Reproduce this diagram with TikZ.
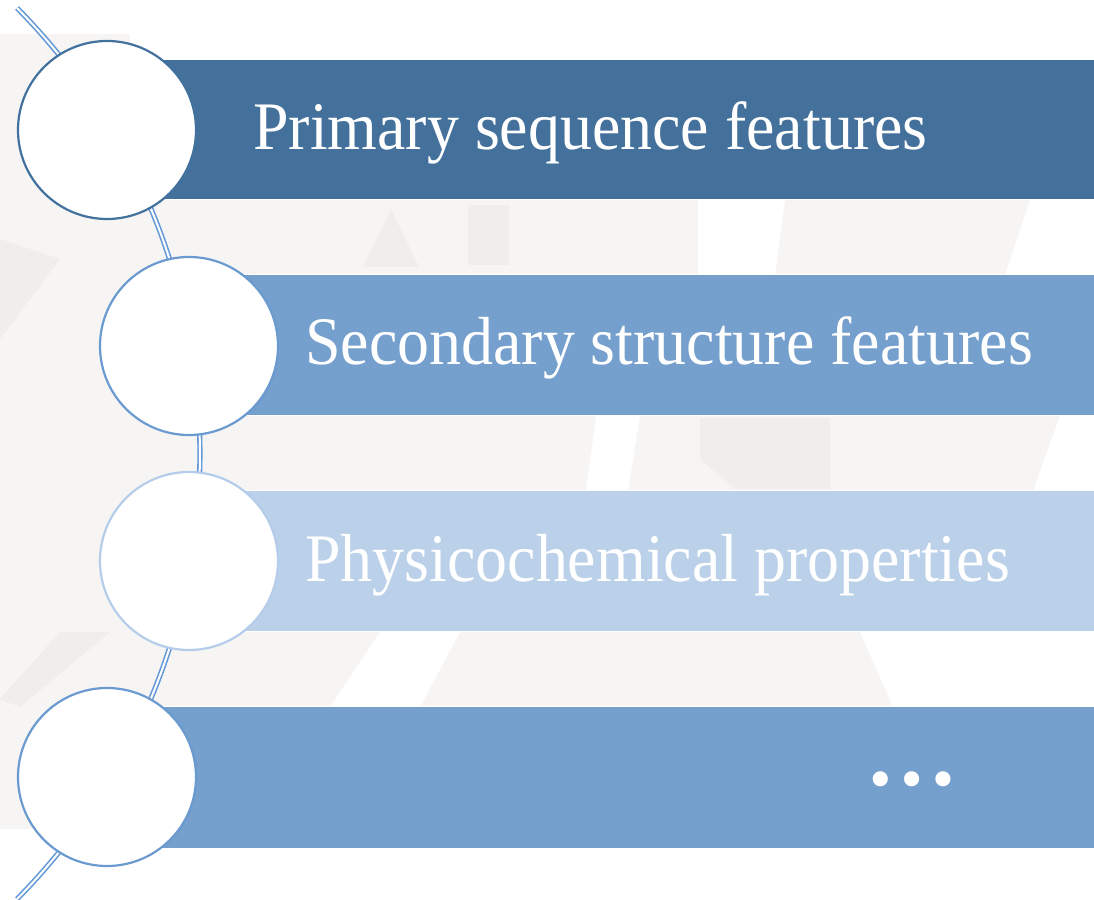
\documentclass[tikz,border=0pt]{standalone}
\usepackage{fontspec}
\setmainfont{Liberation Serif}
\newfontfamily\barfont[FakeStretch=0.94]{Liberation Serif}
\definecolor{barA}{HTML}{43719C}
\definecolor{barB}{HTML}{759FCC}
\definecolor{barC}{HTML}{BBD0E9}
\definecolor{ringA}{HTML}{41719C}
\definecolor{ringB}{HTML}{6A9AD0}
\definecolor{ringC}{HTML}{B5CDEA}
\definecolor{linkblue}{HTML}{6399D8}
\definecolor{bggrey}{HTML}{F6F5F4}
\definecolor{bgpink}{HTML}{F2EDED}
\begin{document}
\begin{tikzpicture}[x=1pt,y=1pt,
  bar/.style={fill=#1, draw=white, line width=1pt},
  ring/.style={circle, draw=#1, fill=white, line width=2.2pt, minimum size=178pt, inner sep=0pt},
  barlabel/.style={anchor=base west, text=white, inner sep=0pt, font=\barfont\fontsize{68}{80}\selectfont},
  link/.style={draw=linkblue, line width=1.6pt, double=white, double distance=2pt}]
\useasboundingbox (0,0) rectangle (1094,899);
\fill[white] (0,0) rectangle (1094,899);
% faint background pattern
\fill[bggrey] (0,70) rectangle (1094,865);
\fill[white] (130,839) rectangle (1094,870);
\fill[white] (698,624) -- (775,624) -- (785,699) -- (698,699) -- cycle;
\fill[white] (1005,624) -- (1030,699) -- (1094,699) -- (1094,624) -- cycle;
\fill[white] (586,408) -- (628,408) -- (640,483) -- (596,483) -- cycle;
\fill[white] (1033,408) -- (1060,483) -- (1094,483) -- (1094,408) -- cycle;
\fill[white] (893,192) -- (860,267) -- (1094,267) -- (1094,192) -- cycle;
\fill[white] (330,192) -- (380,267) -- (460,267) -- (420,192) -- cycle;
\fill[white] (0,70) rectangle (1094,40);
\fill[bgpink] (363,632) -- (391,690) -- (419,632) -- cycle;
\fill[bgpink] (468,634) rectangle (509,694);
\fill[bgpink] (735,410) -- (830,410) -- (830,481) -- (700,481) -- (700,440) -- cycle;
\fill[bgpink] (0,200) -- (60,267) -- (110,267) -- (20,192) -- cycle;
\fill[bgpink] (0,560) -- (30,600) -- (60,640) -- (0,660) -- cycle;
% connector arc
\coordinate (ctop) at (17,891);
\draw[link] (ctop) arc[start angle=44.65, end angle=-44.65, radius=634pt] coordinate (cbot);
% bars
\fill[bar=barA] (107,699) rectangle (1094,839);
\fill[bar=barB] (189,483) rectangle (1094,624);
\fill[bar=barC] (189,267) rectangle (1094,408);
\fill[bar=barB] (107,51) rectangle (1094,192);
% circles
\node[ring=ringA] (c1) at (107,769) {};
\node[ring=ringB] (c2) at (189,553) {};
\node[ring=ringC] (c3) at (189,338) {};
\node[ring=ringB] (c4) at (107,122) {};
% labels
\node[barlabel] (t1) at (253,749) {Primary sequence features};
\node[barlabel] (t2) at (305,534) {Secondary structure features};
\node[barlabel] (t3) at (305,317) {Physicochemical properties};
\node[anchor=base, text=white, inner sep=0pt, font=\bfseries\fontsize{93}{100}\selectfont] (t4) at (912,113) {…};
\end{tikzpicture}
\end{document}
